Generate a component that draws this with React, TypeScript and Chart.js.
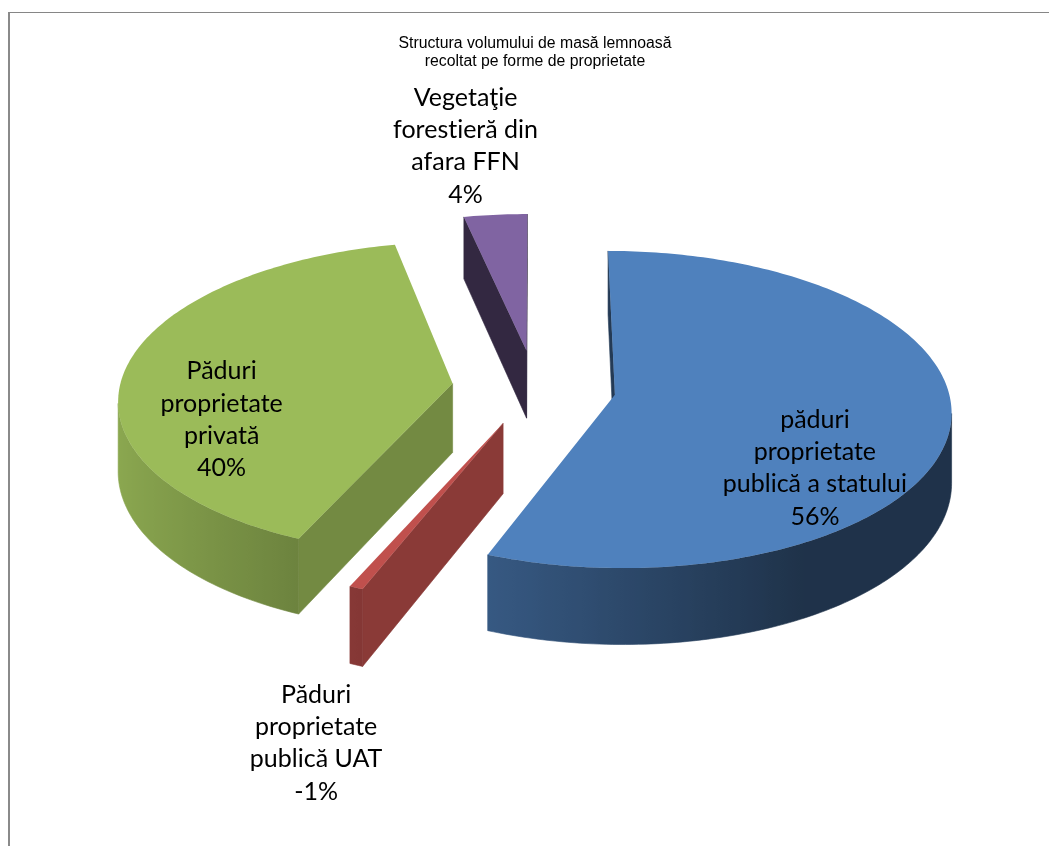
import React, { useEffect, useRef } from "react";
import { Chart, registerables } from "chart.js";

Chart.register(...registerables);

const categories = [
  ["păduri", "proprietate", "publică a statului"],
  ["Păduri", "proprietate", "publică UAT"],
  ["Păduri", "proprietate", "privată"],
  ["Vegetaţie", "forestieră din", "afara FFN"],
];
const shareValues = [56, 0.6, 40, 3.4];
const shareLabels = ["56%", "-1%", "40%", "4%"];
const titleLines = ["Structura volumului de masă lemnoasă", "recoltat pe forme de proprietate"];
const sliceColors = ["#4f81bd", "#c0504d", "#9bbb59", "#8064a2"];

// presentation settings for the 3D view
const EXPLODE = [81, 81, 83, 81];
const RADIUS = 333;
const PLANE_SQUASH = 0.468;
const CAMERA_DIST = 3570;
const WALL_DEPTH = 69;
const CUT_SHADE = [0.45, 0.72, 0.74, 0.4];
const LABEL_SHIFT = [
  [200, 73.5],
  [-187, 320],
  [-231, 36],
  [-61, -204.5],
];
const LABEL_FONT = "25px Lato";
const LINE_STEP = 32.3;

function outerShade(nx: number) {
  const stops = [
    [-1, 0.9],
    [-0.4, 0.7],
    [0.5, 0.39],
    [1, 0.39],
  ];
  for (let i = 1; i < stops.length; i++) {
    if (nx <= stops[i][0]) {
      const t = (nx - stops[i - 1][0]) / (stops[i][0] - stops[i - 1][0]);
      return stops[i - 1][1] + t * (stops[i][1] - stops[i - 1][1]);
    }
  }
  return 0.39;
}

function shadeColor(hex: string, f: number) {
  const n = parseInt(hex.slice(1), 16);
  const r = Math.round(((n >> 16) & 255) * f);
  const g = Math.round(((n >> 8) & 255) * f);
  const b = Math.round((n & 255) * f);
  return `rgb(${r},${g},${b})`;
}

const pie3d = {
  id: "pie3d",
  beforeDatasetsDraw(chart: any) {
    const ctx: CanvasRenderingContext2D = chart.ctx;
    const arcs = chart.getDatasetMeta(0).data;
    const project = (cx: number, cy: number, X: number, Y: number, down: number) => {
      const s = CAMERA_DIST / (CAMERA_DIST - Y);
      return [cx + X * s, cy + PLANE_SQUASH * Y * s + down * s];
    };
    const poly = (pts: number[][], fill: string | CanvasGradient, seam: boolean) => {
      ctx.beginPath();
      pts.forEach((p, i) => (i ? ctx.lineTo(p[0], p[1]) : ctx.moveTo(p[0], p[1])));
      ctx.closePath();
      ctx.fillStyle = fill;
      ctx.fill();
      if (seam) {
        ctx.strokeStyle = fill;
        ctx.lineWidth = 0.6;
        ctx.stroke();
      }
    };

    arcs.forEach((arc: any, i: number) => {
      const { x, y, startAngle, endAngle, outerRadius } = arc;
      const mid = (startAngle + endAngle) / 2;
      const off = arc.options.offset;
      const ax = off * Math.cos(mid);
      const ay = off * Math.sin(mid);
      const color = sliceColors[i];
      const outline: number[][] = [];
      const steps = Math.max(2, Math.ceil(((endAngle - startAngle) * 180) / Math.PI));
      for (let k = 0; k <= steps; k++) {
        const a = startAngle + ((endAngle - startAngle) * k) / steps;
        outline.push([ax + outerRadius * Math.cos(a), ay + outerRadius * Math.sin(a), a]);
      }

      // radial cut faces that look toward the camera
      const cuts = [
        { p: outline[0], n: startAngle - Math.PI / 2 },
        { p: outline[steps], n: endAngle + Math.PI / 2 },
      ];
      cuts.forEach(({ p, n }) => {
        const facing = Math.cos(n) * -ax + Math.sin(n) * (CAMERA_DIST - ay);
        if (facing <= 0) return;
        poly(
          [
            project(x, y, ax, ay, 0),
            project(x, y, p[0], p[1], 0),
            project(x, y, p[0], p[1], WALL_DEPTH),
            project(x, y, ax, ay, WALL_DEPTH),
          ],
          shadeColor(color, CUT_SHADE[i]),
          true
        );
      });

      // outer curved wall: the part that faces the camera, one shape with a horizontal gradient
      const front = outline.filter(
        (p) => -ax * Math.cos(p[2]) + (CAMERA_DIST - ay) * Math.sin(p[2]) - outerRadius > 0
      );
      if (front.length > 1) {
        const tops = front.map((p) => project(x, y, p[0], p[1], 0));
        const bottoms = front.map((p) => project(x, y, p[0], p[1], WALL_DEPTH));
        const xs = tops.map((p) => p[0]);
        const minX = Math.min(...xs);
        const maxX = Math.max(...xs);
        const grad = ctx.createLinearGradient(minX, 0, maxX, 0);
        front.forEach((p, k) => {
          grad.addColorStop(
            maxX > minX ? (xs[k] - minX) / (maxX - minX) : 0,
            shadeColor(color, outerShade(Math.cos(p[2])))
          );
        });
        poly([...tops, ...bottoms.reverse()], grad, true);
      }

      const apex = [ax, ay];
      poly(
        [apex, ...outline].map((p) => project(x, y, p[0], p[1], 0)),
        color,
        false
      );

      const anchor = project(x, y, ax, ay, 0);
      const lines = [...categories[i], shareLabels[i]];
      ctx.font = LABEL_FONT;
      (ctx as any).textRendering = "optimizeSpeed";
      ctx.fillStyle = "#000000";
      ctx.textAlign = "center";
      ctx.textBaseline = "middle";
      lines.forEach((line, n) => {
        ctx.fillText(
          line,
          anchor[0] + LABEL_SHIFT[i][0],
          anchor[1] + LABEL_SHIFT[i][1] + (n - (lines.length - 1) / 2) * LINE_STEP
        );
      });
    });
    return false;
  },
};

export default function App() {
  const ref = useRef<HTMLCanvasElement>(null);
  useEffect(() => {
    const chart = new Chart(ref.current!, {
      type: "pie",
      data: {
        labels: categories.map((c) => c.join(" ")),
        datasets: [
          {
            data: shareValues,
            backgroundColor: sliceColors,
            borderWidth: 0,
            offset: EXPLODE,
            radius: RADIUS,
          } as any,
        ],
      },
      options: {
        responsive: false,
        animation: false,
        layout: { padding: { left: 21, bottom: 144 } },
        plugins: {
          legend: { display: false },
          tooltip: { enabled: false },
          title: {
            display: true,
            text: titleLines,
            color: "#000000",
            font: { family: "'Liberation Sans'", size: 15.8, weight: "normal", lineHeight: 1.14 },
            padding: { top: 35, bottom: 2 },
          },
        },
      },
      plugins: [pie3d],
    });
    return () => chart.destroy();
  }, []);
  return (
    <>
      <div
        style={{
          position: "absolute",
          left: 8,
          top: 12,
          width: 1041,
          height: 834,
          boxSizing: "border-box",
          borderLeft: "2px solid #8a8a8a",
          borderTop: "1px solid #868686",
        }}
      />
      <canvas ref={ref} width={1049} height={846} style={{ position: "absolute", left: 0, top: 0 }} />
    </>
  );
}
